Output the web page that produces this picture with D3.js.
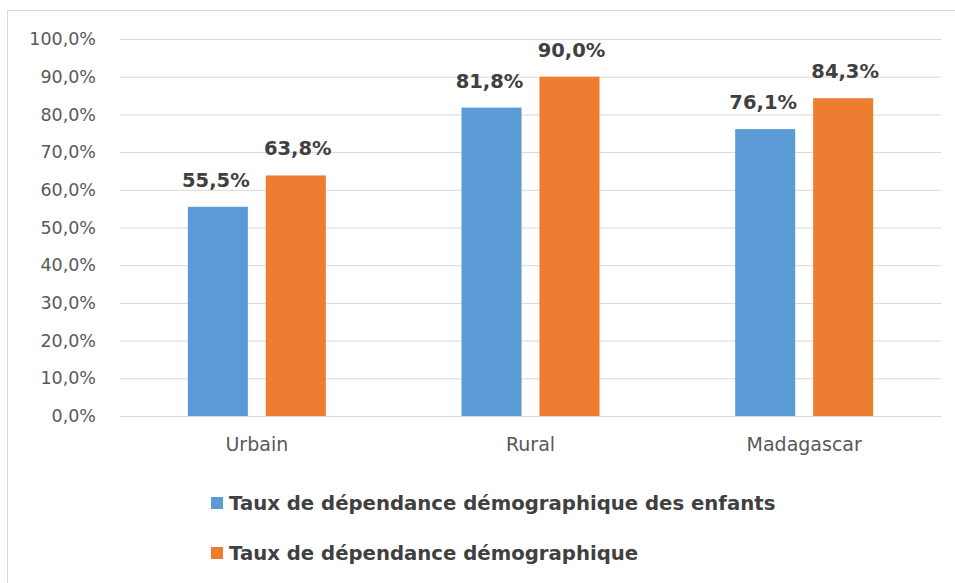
<!DOCTYPE html>
<html>
<head>
<meta charset="utf-8">
<script src="https://cdn.jsdelivr.net/npm/d3@7"></script>
<style>
  body { margin: 0; background: #fff; }
  svg { display: block; }
</style>
</head>
<body>
<script>
'use strict';

// chart data
const categories = ['Urbain', 'Rural', 'Madagascar'];
const seriesNames = ['Taux de dépendance démographique des enfants', 'Taux de dépendance démographique'];
const enfants = [55.5, 81.8, 76.1];
const total = [63.8, 90.0, 84.3];
const yTicks = [0, 10, 20, 30, 40, 50, 60, 70, 80, 90, 100];
const colors = ['#5b9bd5', '#ed7d31'];

const width = 955, height = 583;
const font = '"DejaVu Sans", "Open Sans", sans-serif';

const svg = d3.select('body').append('svg')
  .attr('width', width)
  .attr('height', height)
  .style('font-family', font);

// chart frame
svg.append('rect')
  .attr('x', 7.5).attr('y', 10.5)
  .attr('width', 960).attr('height', 600)
  .attr('fill', '#fff')
  .attr('stroke', '#d9d9d9');

const plot = { left: 120, right: 941, top: 39, bottom: 416 };

const x = d3.scaleBand()
  .domain(categories)
  .range([plot.left, plot.right]);

// two bars of 60px with an 18px gap, centred in each band
const groupW = 138;
const x1 = d3.scaleBand()
  .domain([0, 1])
  .range([(x.bandwidth() - groupW) / 2, (x.bandwidth() + groupW) / 2])
  .paddingInner(0.23);

const y = d3.scaleLinear()
  .domain([0, 100])
  .range([plot.bottom, plot.top]);

// gridlines + y labels
const yAxis = d3.axisLeft(y)
  .tickValues(yTicks)
  .tickSize(-(plot.right - plot.left))
  .tickPadding(24)
  .tickFormat(d => d.toFixed(1).replace('.', ',') + '%');

const gy = svg.append('g')
  .attr('transform', `translate(${plot.left},0)`)
  .call(yAxis);
gy.select('.domain').remove();
gy.selectAll('.tick line').attr('stroke', '#d9d9d9');
gy.selectAll('.tick text')
  .attr('fill', '#595959')
  .style('font-size', '17.5px')
  .style('font-family', font);

// x labels
const xAxis = d3.axisBottom(x).tickSize(0).tickPadding(22);
const gx = svg.append('g')
  .attr('transform', `translate(0,${plot.bottom})`)
  .call(xAxis);
gx.select('.domain').remove();
gx.selectAll('.tick text')
  .attr('fill', '#595959')
  .style('font-size', '19px')
  .style('font-family', font);

// bars
const rows = categories.map((c, i) => ({ cat: c, vals: [enfants[i], total[i]] }));

const groups = svg.selectAll('.grp')
  .data(rows)
  .enter()
  .append('g')
  .attr('transform', d => `translate(${x(d.cat)},0)`);

groups.selectAll('rect')
  .data(d => d.vals.map((v, k) => ({ v: v, k: k })))
  .enter()
  .append('rect')
  .attr('x', d => x1(d.k))
  .attr('y', d => y(d.v))
  .attr('width', x1.bandwidth())
  .attr('height', d => y(0) - y(d.v))
  .attr('fill', d => colors[d.k]);

// value labels
groups.selectAll('.lbl')
  .data(d => d.vals.map((v, k) => ({ v: v, k: k })))
  .enter()
  .append('text')
  .attr('x', d => x1(d.k) + x1.bandwidth() / 2 + (d.k === 0 ? -2 : 2))
  .attr('y', d => y(d.v) - 20)
  .attr('text-anchor', 'middle')
  .attr('fill', '#404040')
  .style('font-size', '19.5px')
  .style('font-weight', 'bold')
  .text(d => d.v.toFixed(1).replace('.', ',') + '%');

// legend
const legend = svg.append('g');
seriesNames.forEach((name, i) => {
  const ly = 510 + i * 50;
  legend.append('rect')
    .attr('x', 211).attr('y', ly - 13)
    .attr('width', 12).attr('height', 12)
    .attr('fill', colors[i]);
  legend.append('text')
    .attr('x', 229).attr('y', ly)
    .attr('fill', '#404040')
    .style('font-size', '19.7px')
    .style('font-weight', 'bold')
    .text(name);
});
</script>
</body>
</html>
